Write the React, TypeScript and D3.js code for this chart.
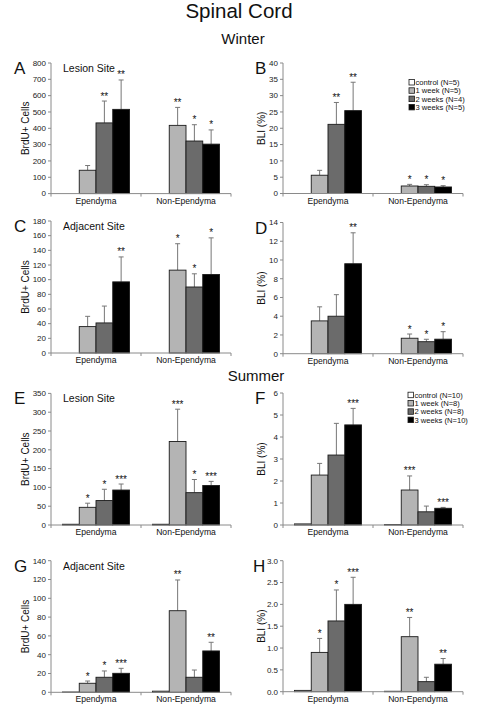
import React from "react";
import * as d3 from "d3";

const categories = ["Ependyma", "Non-Ependyma"];
const series = ["control", "1 week", "2 weeks", "3 weeks"];
const seriesColors = ["#ffffff", "#b4b4b4", "#6b6b6b", "#000000"];
const winterLegend = ["control (N=5)", "1 week (N=5)", "2 weeks (N=4)", "3 weeks (N=5)"];
const summerLegend = ["control (N=10)", "1 week (N=8)", "2 weeks (N=8)", "3 weeks (N=10)"];

// Winter, lesion site, BrdU+ cells
const aMean = [[0, 143, 433, 516], [0, 418, 322, 303]];
const aUpper = [[0, 172, 567, 696], [0, 528, 422, 390]];
const aStars = [["", "", "**", "**"], ["", "**", "*", "*"]];
// Winter, lesion site, BLI
const bMean = [[0, 5.6, 21.2, 25.4], [0, 2.3, 2.2, 2.0]];
const bUpper = [[0, 7.1, 27.9, 34.1], [0, 2.8, 2.7, 2.4]];
const bStars = [["", "", "**", "**"], ["", "*", "*", "*"]];
// Winter, adjacent site, BrdU+ cells
const cMean = [[0, 36, 41, 97], [0, 113, 90, 107]];
const cUpper = [[0, 50, 64, 131], [0, 149, 108, 157]];
const cStars = [["", "", "", "**"], ["", "*", "*", "*"]];
// Winter, adjacent site, BLI
const dMean = [[0, 3.5, 4.0, 9.6], [0, 1.65, 1.28, 1.55]];
const dUpper = [[0, 5.0, 6.3, 12.9], [0, 2.1, 1.54, 2.35]];
const dStars = [["", "", "", "**"], ["", "*", "*", "*"]];
// Summer, lesion site, BrdU+ cells
const eMean = [[2, 47, 65, 93], [2, 222, 86, 105]];
const eUpper = [[0, 58, 95, 109], [0, 308, 121, 116]];
const eStars = [["", "*", "*", "***"], ["", "***", "*", "***"]];
// Summer, lesion site, BLI
const fMean = [[0.05, 2.27, 3.18, 4.55], [0.02, 1.59, 0.6, 0.76]];
const fUpper = [[0, 2.8, 4.62, 5.3], [0, 2.23, 0.86, 0.8]];
const fStars = [["", "", "", "***"], ["", "***", "", "***"]];
// Summer, adjacent site, BrdU+ cells
const gMean = [[0.3, 9.6, 16, 20.2], [1.2, 86.8, 16, 44]];
const gUpper = [[0, 12, 22.7, 25.5], [0, 119.5, 23.7, 53.2]];
const gStars = [["", "*", "*", "***"], ["", "**", "", "**"]];
// Summer, adjacent site, BLI
const hMean = [[0.03, 0.9, 1.62, 2.0], [0.01, 1.26, 0.23, 0.63]];
const hUpper = [[0, 1.22, 2.33, 2.62], [0, 1.7, 0.33, 0.76]];
const hStars = [["", "*", "*", "***"], ["", "**", "", "**"]];

const FONT = "'Liberation Sans', Arial, sans-serif";

type PanelProps = {
  left: number; top: number; bottom: number; yMax: number; yStep: number;
  fmt: (v: number) => string; means: number[][]; uppers: number[][]; stars: string[][];
  letter: string; letterX: number; site?: string; ylabel: string; labelOffset: number;
  legend?: string[]; legendX?: number; legendY?: number;
};

function Panel(p: PanelProps) {
  const width = 180;
  const y = d3.scaleLinear().domain([0, p.yMax]).range([p.bottom, p.top]);
  const x0 = d3.scaleBand<string>().domain(categories).range([p.left, p.left + width]);
  const x1 = d3.scaleBand<string>().domain(series).range([11.5, 78.5]);
  const ticks = d3.range(0, p.yMax + p.yStep / 2, p.yStep);
  const bw = x1.bandwidth();
  return (
    <g>
      <text x={p.letterX} y={p.top + 11} fontSize={17} fontFamily={FONT} fill="#111">{p.letter}</text>
      {p.site && (
        <text x={p.left + 12} y={p.top + 9} fontSize={10.5} fontFamily={FONT} fill="#111">{p.site}</text>
      )}
      <text transform={`translate(${p.left - p.labelOffset},${(p.top + p.bottom) / 2}) rotate(-90)`}
        textAnchor="middle" fontSize={10} fontFamily={FONT} fill="#111">{p.ylabel}</text>
      {categories.map((c, ci) => (
        <g key={c}>
          {series.map((s, si) => {
            const m = p.means[ci][si];
            const u = p.uppers[ci][si];
            const bx = (x0(c) as number) + (x1(s) as number);
            const cx = bx + bw / 2;
            const st = p.stars[ci][si];
            const topVal = Math.max(m, u);
            return (
              <g key={s}>
                {u > m && (
                  <g stroke="#777" strokeWidth={1}>
                    <line x1={cx} x2={cx} y1={y(m)} y2={y(u)} />
                    <line x1={cx - 2.5} x2={cx + 2.5} y1={y(u)} y2={y(u)} />
                  </g>
                )}
                {m > 0 && (
                  <rect x={bx} y={y(m)} width={bw} height={p.bottom - y(m)}
                    fill={seriesColors[si]} stroke="#1a1a1a" strokeWidth={0.9} />
                )}
                {st && (
                  <text x={cx} y={y(topVal) - 1.5} textAnchor="middle" fontSize={10}
                    fontFamily={FONT} fill="#111">{st}</text>
                )}
              </g>
            );
          })}
          <text x={(x0(c) as number) + x0.bandwidth() / 2} y={p.bottom + 10} textAnchor="middle"
            fontSize={8.6} fontFamily={FONT} fill="#111">{c}</text>
        </g>
      ))}
      <g stroke="#8a8a8a" strokeWidth={1}>
        <line x1={p.left} x2={p.left} y1={p.top} y2={p.bottom} />
        <line x1={p.left} x2={p.left + width} y1={p.bottom} y2={p.bottom} />
        {ticks.map((t) => (
          <line key={t} x1={p.left - 3} x2={p.left} y1={y(t)} y2={y(t)} />
        ))}
        {[0, 1, 2].map((i) => (
          <line key={i} x1={p.left + i * 90} x2={p.left + i * 90} y1={p.bottom} y2={p.bottom + 3} />
        ))}
      </g>
      {ticks.map((t) => (
        <text key={t} x={p.left - 5} y={y(t) + 2.8} textAnchor="end" fontSize={8}
          fontFamily={FONT} fill="#222">{p.fmt(t)}</text>
      ))}
      {p.legend && p.legend.map((l, i) => (
        <g key={l}>
          <rect x={p.legendX as number} y={(p.legendY as number) + i * 8.3 - 2.8} width={5.5} height={5.5}
            fill={seriesColors[i]} stroke="#1a1a1a" strokeWidth={0.8} />
          <text x={(p.legendX as number) + 6.5} y={(p.legendY as number) + i * 8.3 + 2.6}
            fontSize={7.6} fontFamily={FONT} fill="#111">{l}</text>
        </g>
      ))}
    </g>
  );
}

const intFmt = (v: number) => d3.format("d")(v);
const decFmt = (v: number) => d3.format(".1f")(v);

export default function App() {
  return (
    <svg width={478} height={710} style={{ position: "absolute", left: 0, top: 0, background: "#fff" }}>
      <text x={239} y={18} textAnchor="middle" fontSize={20.5} fontFamily={FONT} fill="#111">Spinal Cord</text>
      <text x={243} y={44} textAnchor="middle" fontSize={15} fontFamily={FONT} fill="#111">Winter</text>
      <text x={256} y={381} textAnchor="middle" fontSize={15} fontFamily={FONT} fill="#111">Summer</text>

      <Panel left={51} top={63} bottom={193.6} yMax={800} yStep={100} fmt={intFmt}
        means={aMean} uppers={aUpper} stars={aStars} letter="A" letterX={14}
        site="Lesion Site" ylabel="BrdU+ Cells" labelOffset={22} />
      <Panel left={283} top={63} bottom={193.5} yMax={40} yStep={5} fmt={intFmt}
        means={bMean} uppers={bUpper} stars={bStars} letter="B" letterX={255}
        ylabel="BLI (%)" labelOffset={18} legend={winterLegend} legendX={409} legendY={82.3} />
      <Panel left={51} top={221} bottom={353} yMax={180} yStep={20} fmt={intFmt}
        means={cMean} uppers={cUpper} stars={cStars} letter="C" letterX={14}
        site="Adjacent Site" ylabel="BrdU+ Cells" labelOffset={22} />
      <Panel left={283} top={222.5} bottom={353.7} yMax={14} yStep={2} fmt={intFmt}
        means={dMean} uppers={dUpper} stars={dStars} letter="D" letterX={255}
        ylabel="BLI (%)" labelOffset={18} />
      <Panel left={51} top={393.4} bottom={525} yMax={350} yStep={50} fmt={intFmt}
        means={eMean} uppers={eUpper} stars={eStars} letter="E" letterX={14}
        site="Lesion Site" ylabel="BrdU+ Cells" labelOffset={22} />
      <Panel left={283} top={393} bottom={525} yMax={6} yStep={1} fmt={intFmt}
        means={fMean} uppers={fUpper} stars={fStars} letter="F" letterX={255}
        ylabel="BLI (%)" labelOffset={18} legend={summerLegend} legendX={408} legendY={395} />
      <Panel left={51} top={560.7} bottom={692.3} yMax={140} yStep={20} fmt={intFmt}
        means={gMean} uppers={gUpper} stars={gStars} letter="G" letterX={14}
        site="Adjacent Site" ylabel="BrdU+ Cells" labelOffset={22} />
      <Panel left={283} top={560.7} bottom={691.7} yMax={3} yStep={0.5} fmt={decFmt}
        means={hMean} uppers={hUpper} stars={hStars} letter="H" letterX={253}
        ylabel="BLI (%)" labelOffset={18} />
    </svg>
  );
}
